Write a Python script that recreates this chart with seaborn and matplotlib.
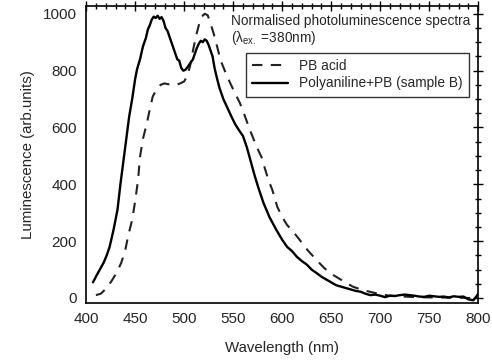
import numpy as np
import pandas as pd
import seaborn as sns
import matplotlib.pyplot as plt
from matplotlib.ticker import MultipleLocator

# Polyaniline+PB (sample B) spectrum
pani_wl = [407, 410, 414, 418, 421, 424, 428, 432, 435, 438, 441, 444, 447, 450, 452,
           455, 458, 461, 463, 465, 467, 469, 471, 473, 475, 477, 479, 481, 483, 485,
           487, 489, 491, 493, 495, 497, 499, 501, 503, 505, 507, 509, 511, 513, 515,
           517, 519, 521, 523, 525, 527, 529, 531, 533, 536, 540, 544, 548, 552, 556,
           560, 564, 568, 572, 576, 581, 587, 594, 600, 605, 610, 615, 620, 625, 630,
           635, 640, 645, 650, 655, 660, 665, 670, 675, 680, 685, 690, 695, 700, 705,
           710, 715, 720, 725, 730, 735, 740, 745, 750, 755, 760, 765, 770, 775, 780,
           785, 790, 795, 798, 800]
pani_lum = [55, 75, 100, 125, 150, 180, 240, 310, 400, 480, 560, 640, 700, 770, 805,
            840, 885, 915, 945, 960, 980, 990, 985, 993, 982, 988, 975, 950, 940, 920,
            900, 880, 860, 840, 835, 810, 800, 802, 810, 820, 830, 840, 860, 880, 895,
            905, 900, 910, 905, 890, 870, 850, 810, 780, 740, 700, 670, 640, 612, 590,
            570, 530, 480, 430, 385, 334, 285, 240, 205, 180, 165, 145, 130, 118, 100,
            88, 75, 65, 55, 45, 40, 35, 30, 25, 22, 15, 10, 12, 8, 3,
            8, 7, 10, 12, 10, 8, 5, 4, 8, 6, 4, 5, 2, 6, 4,
            5, -5, -8, 5, 15]

# PB acid spectrum
pb_wl = [410, 415, 421, 426, 431, 436, 440, 443, 447, 450, 453, 455, 458, 462, 465,
         468, 472, 476, 480, 484, 488, 492, 496, 500, 503, 506, 509, 512, 515, 518,
         521, 524, 527, 530, 534, 537, 542, 547, 552, 557, 562, 567, 574, 579, 582,
         586, 590, 595, 600, 605, 612, 618, 626, 635, 643, 652, 662, 672, 682, 693,
         702, 710, 720, 730, 740, 750, 760, 770, 780, 790, 800]
pb_lum = [10, 15, 35, 60, 88, 125, 169, 220, 275, 340, 415, 497, 560, 615, 665,
          709, 735, 750, 755, 752, 750, 750, 755, 762, 780, 815, 870, 920, 960, 990,
          1000, 995, 965, 932, 880, 838, 795, 756, 720, 685, 640, 592, 532, 495, 460,
          415, 380, 321, 285, 257, 230, 204, 168, 134, 105, 81, 60, 40, 28, 19,
          12, 8, 6, 4, 3, 2, 2, 1, 1, 0, 0]

pb = pd.DataFrame({"wl": pb_wl, "lum": pb_lum})
pani = pd.DataFrame({"wl": pani_wl, "lum": pani_lum})

sns.set_theme(style="white")
plt.rcParams["font.family"] = ["Liberation Sans", "DejaVu Sans"]
plt.rcParams["mathtext.fontset"] = "custom"
plt.rcParams["mathtext.rm"] = "Liberation Sans"
plt.rcParams["mathtext.it"] = "Liberation Sans:italic"

fig = plt.figure(figsize=(4.92, 3.63), dpi=100)
ax = fig.add_axes([0.175, 0.165, 0.797, 0.819])

sns.lineplot(data=pb, x="wl", y="lum", ax=ax, color="#222222", lw=1.5,
             label="PB acid")
ax.lines[-1].set_dashes([5, 4])
sns.lineplot(data=pani, x="wl", y="lum", ax=ax, color="black", lw=1.7,
             label="Polyaniline+PB (sample B)")

ax.set_xlim(400, 800)
ax.set_ylim(-18, 1028)
ax.xaxis.set_major_locator(MultipleLocator(50))
ax.xaxis.set_minor_locator(MultipleLocator(10))
ax.yaxis.set_major_locator(MultipleLocator(200))
ax.yaxis.set_minor_locator(MultipleLocator(50))
ax.tick_params(which="both", direction="inout", top=True, right=True,
               labelsize=11, color="black", width=1, pad=3)
ax.tick_params(which="major", length=7)
ax.tick_params(which="minor", length=4)
for s in ax.spines.values():
    s.set_color("black")
    s.set_linewidth(1.2)

ax.set_xlabel("Wavelength (nm)", fontsize=10.8, labelpad=11)
ax.set_ylabel("Luminescence (arb.units)", fontsize=10.8, labelpad=6)

ax.text(0.37, 0.95, "Normalised photoluminescence spectra", transform=ax.transAxes,
        fontsize=9.8, va="center")
ax.text(0.37, 0.893, r"(λ$_{\mathrm{ex.}}$ =380nm)", transform=ax.transAxes,
        fontsize=9.8, va="center")

leg = ax.legend(loc="upper left", bbox_to_anchor=(0.39, 0.865), fontsize=9.9,
                frameon=True, fancybox=False, handlelength=2.6, handletextpad=0.8,
                borderpad=0.45, labelspacing=0.25)
leg.get_frame().set_edgecolor("black")
leg.get_frame().set_linewidth(1.0)

fig.savefig("out.png", dpi=100)
